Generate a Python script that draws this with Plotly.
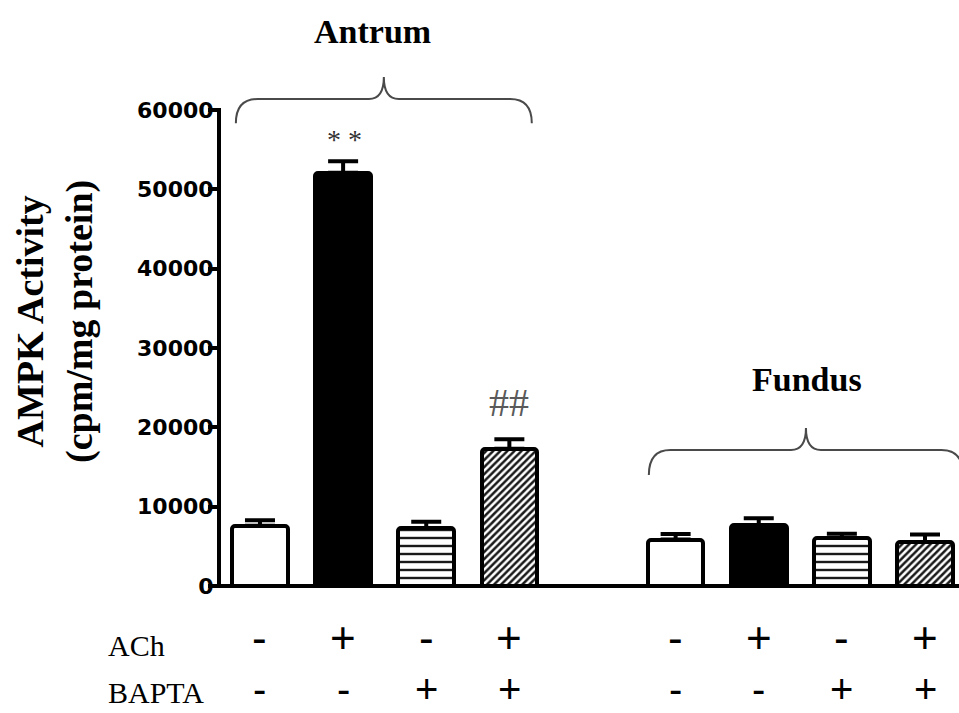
import plotly.graph_objects as go

# ---- data -------------------------------------------------------------
regions = ["Antrum", "Fundus"]
conditions = ["Control", "ACh", "BAPTA", "ACh + BAPTA"]
ach_flags = ["-", "+", "-", "+"]
bapta_flags = ["-", "-", "+", "+"]

antrum_mean = [7600, 52100, 7300, 17300]
antrum_sem = [700, 1450, 800, 1200]
fundus_mean = [5850, 7650, 6050, 5550]
fundus_sem = [700, 900, 550, 950]

y_tick_vals = [0, 10000, 20000, 30000, 40000, 50000, 60000]
y_tick_text = ["0", "10000", "20000", "30000", "40000", "50000", "60000"]

# significance marks: (region index, condition index, label)
marks = [(0, 1, "* *"), (0, 3, "##")]

# ---- layout constants ---------------------------------------------------
Y_MAX = 60000
GROUP_STRIDE = 5          # one empty slot between the two regions
BAR_WIDTH = 0.67
SERIF = "Liberation Serif"
SANS = "Liberation Sans"

means = [antrum_mean, fundus_mean]
sems = [antrum_sem, fundus_sem]


def xpos(g, i):
    return g * GROUP_STRIDE + i


bar_styles = [
    dict(color="white", shape="", size=8, solidity=0.3),
    dict(color="black", shape="", size=8, solidity=0.3),
    dict(color="white", shape="-", size=8, solidity=0.3),
    dict(color="white", shape="/", size=5, solidity=0.5),
]

fig = go.Figure()
for i, cond in enumerate(conditions):
    st = bar_styles[i]
    fig.add_trace(go.Bar(
        x=[xpos(g, i) for g in range(len(regions))],
        y=[means[g][i] for g in range(len(regions))],
        name=cond,
        width=BAR_WIDTH,
        marker=dict(
            color=st["color"],
            line=dict(color="black", width=4),
            cornerradius=3,
            pattern=dict(shape=st["shape"], fgcolor="#1a1a1a", bgcolor=st["color"],
                         size=st["size"], solidity=st["solidity"], fillmode="replace"),
        ),
        error_y=dict(type="data", symmetric=False,
                     array=[sems[g][i] for g in range(len(regions))],
                     arrayminus=[0] * len(regions),
                     color="black", thickness=4, width=15),
        showlegend=False,
        hoverinfo="skip",
    ))

shapes = []
# axis lines drawn in paper space so the y line stops at the top tick
shapes.append(dict(type="line", xref="paper", yref="paper", x0=0, x1=1.01, y0=0, y1=0,
                   line=dict(color="black", width=4), layer="above"))
shapes.append(dict(type="line", xref="paper", yref="paper", x0=0, x1=0, y0=-0.004, y1=1.004,
                   line=dict(color="black", width=4), layer="above"))


def brace(center, half, y_end, y_mid, y_tip, r=0.26, r2=0.18):
    ye, ym, yt = y_end / Y_MAX, y_mid / Y_MAX, y_tip / Y_MAX
    xl, xr = center - half, center + half
    path = (f"M {xl},{ye} Q {xl},{ym} {xl + r},{ym} "
            f"L {center - r2},{ym} Q {center},{ym} {center},{yt} "
            f"Q {center},{ym} {center + r2},{ym} "
            f"L {xr - r},{ym} Q {xr},{ym} {xr},{ye}")
    return dict(type="path", xref="x", yref="paper", path=path,
                line=dict(color="#4a4a4a", width=2))


shapes.append(brace(1.49, 1.78, 58330, 61390, 64160))
shapes.append(brace(6.568, 1.89, 13990, 17140, 19910))

annotations = []


def note(**kw):
    kw.setdefault("showarrow", False)
    kw.setdefault("xanchor", "center")
    kw.setdefault("yanchor", "middle")
    annotations.append(kw)


# region titles
note(text="Antrum", x=1.35, xref="x", y=1.164, yref="paper",
     font=dict(family=SERIF, size=34, color="black", weight="bold"))
note(text="Fundus", x=6.586, xref="x", y=0.4328, yref="paper",
     font=dict(family=SERIF, size=34, color="black", weight="bold"))

# significance marks above the error bars
for g, i, label in marks:
    top = means[g][i] + sems[g][i]
    if label.startswith("*"):
        note(text=label, x=xpos(g, i) + 0.02, xref="x", y=top, yref="y", yshift=22,
             font=dict(family=SERIF, size=28, color="#333333"))
    else:
        note(text=label, x=xpos(g, i), xref="x", y=top, yref="y", yshift=37,
             font=dict(family=SERIF, size=40, color="#5a5a5a"))

# treatment table under the axis
row_y = {"ACh": -0.124, "BAPTA": -0.2235}
sign_y = {"ACh": -0.1092, "BAPTA": -0.2160}
sign_size = {"ACh": 44, "BAPTA": 40}
for name, flags in (("ACh", ach_flags), ("BAPTA", bapta_flags)):
    note(text=name, x=-0.1527, xref="paper", xanchor="left",
         y=row_y[name], yref="paper",
         font=dict(family=SERIF, size=30, color="black"))
    for g in range(len(regions)):
        for i, f in enumerate(flags):
            note(text=f, x=xpos(g, i), xref="x", y=sign_y[name], yref="paper",
                 font=dict(family=SANS, size=sign_size[name], color="black"))

# y-axis title
note(text="AMPK Activity<br>(cpm/mg protein)", textangle=-90,
     x=-0.2216, xref="paper", y=0.5546, yref="paper",
     font=dict(family=SERIF, size=38, color="black", weight="bold"))

fig.update_layout(
    width=959, height=713,
    margin=dict(l=219, r=0, t=110, b=127),
    paper_bgcolor="white", plot_bgcolor="white",
    bargap=0,
    xaxis=dict(range=[-0.493, 8.409], showline=False, showticklabels=False,
               ticks="", showgrid=False, zeroline=False, fixedrange=True),
    yaxis=dict(range=[0, Y_MAX], tickvals=y_tick_vals, ticktext=y_tick_text,
               ticks="outside", ticklen=10, tickwidth=4, tickcolor="black",
               showline=False, showgrid=False, zeroline=False,
               ticklabelstandoff=-10,
               tickfont=dict(family="DejaVu Sans", size=22, color="black", weight="bold"),
               fixedrange=True),
    shapes=shapes,
    annotations=annotations,
)

fig.write_html("out.html")
